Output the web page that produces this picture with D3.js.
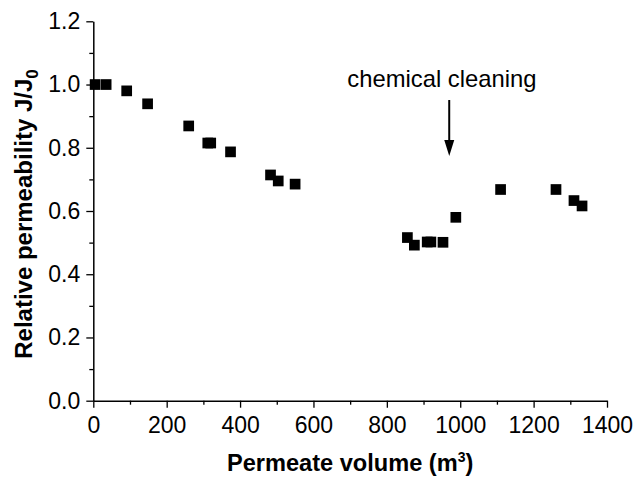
<!DOCTYPE html>
<html>
<head>
<meta charset="utf-8">
<script src="https://cdn.jsdelivr.net/npm/d3@7"></script>
<style>
  html, body { margin: 0; padding: 0; background: #fff; }
  svg { display: block; font-family: "Liberation Sans", Arial, sans-serif; }
</style>
</head>
<body>
<svg id="chart" width="634" height="479"></svg>
<script>
// Permeate volume (m³) and relative permeability J/J0
const volume = [5, 35, 91, 148, 260, 312, 320, 374, 483, 504, 550,
                856, 875, 910, 920, 953, 988, 1110, 1261, 1310, 1332];
const permeability = [1.0, 1.0, 0.98, 0.939, 0.869, 0.815, 0.815, 0.787, 0.714, 0.695, 0.685,
                      0.516, 0.492, 0.502, 0.502, 0.501, 0.580, 0.668, 0.668, 0.633, 0.616];

const xTicks = [0, 200, 400, 600, 800, 1000, 1200, 1400];
const yTicks = [0.0, 0.2, 0.4, 0.6, 0.8, 1.0, 1.2];
const xMinor = d3.range(100, 1400, 200);
const yMinor = [0.1, 0.3, 0.5, 0.7, 0.9, 1.1];

// Cleaning annotation: label position and arrow span
const cleaningLabel = { x: 950, y: 0.991, text: "chemical cleaning" };
const cleaningArrow = { x: 970, y0: 0.951, y1: 0.774 };

const svg = d3.select("#chart");
const x = d3.scaleLinear().domain([0, 1400]).range([93.3, 607]);
const y = d3.scaleLinear().domain([0, 1.2]).range([400.7, 21.3]);

const fontTick = 23;

// Minor ticks
svg.append("g")
  .attr("transform", `translate(0,${y(0)})`)
  .call(d3.axisBottom(x).tickValues(xMinor).tickSize(4).tickFormat(""))
  .call(g => g.select(".domain").remove())
  .call(g => g.selectAll("line").attr("stroke", "#000").attr("stroke-width", 1.3));
svg.append("g")
  .attr("transform", `translate(${x(0)},0)`)
  .call(d3.axisLeft(y).tickValues(yMinor).tickSize(4).tickFormat(""))
  .call(g => g.select(".domain").remove())
  .call(g => g.selectAll("line").attr("stroke", "#000").attr("stroke-width", 1.3));

// Major axes
const xAxis = svg.append("g")
  .attr("transform", `translate(0,${y(0)})`)
  .call(d3.axisBottom(x).tickValues(xTicks).tickSize(7).tickSizeOuter(0).tickPadding(9)
        .tickFormat(d3.format("d")));
const yAxis = svg.append("g")
  .attr("transform", `translate(${x(0)},0)`)
  .call(d3.axisLeft(y).tickValues(yTicks).tickSize(7).tickSizeOuter(0).tickPadding(6)
        .tickFormat(d3.format(".1f")));

[xAxis, yAxis].forEach(g => {
  g.select(".domain").attr("stroke", "#000").attr("stroke-width", 1.5);
  g.selectAll(".tick line").attr("stroke", "#000").attr("stroke-width", 1.3);
  g.selectAll(".tick text")
    .attr("fill", "#000")
    .style("font-size", fontTick + "px")
    .style("font-family", '"Liberation Sans", Arial, sans-serif');
});

// Data points (filled squares)
const sq = d3.symbol().type(d3.symbolSquare).size(10.7 * 10.7);
svg.append("g")
  .selectAll("path")
  .data(volume.map((v, i) => [v, permeability[i]]))
  .join("path")
  .attr("d", sq)
  .attr("transform", d => `translate(${x(d[0])},${y(d[1])})`)
  .attr("fill", "#000");

// Annotation
svg.append("text")
  .attr("x", x(cleaningLabel.x))
  .attr("y", y(cleaningLabel.y))
  .attr("text-anchor", "middle")
  .style("font-size", "23.8px")
  .attr("fill", "#000")
  .text(cleaningLabel.text);

const ax = x(cleaningArrow.x), ay0 = y(cleaningArrow.y0), ay1 = y(cleaningArrow.y1);
svg.append("line")
  .attr("x1", ax).attr("x2", ax)
  .attr("y1", ay0).attr("y2", ay1 - 12)
  .attr("stroke", "#000").attr("stroke-width", 2);
svg.append("path")
  .attr("d", `M${ax - 5},${ay1 - 16} L${ax + 5},${ay1 - 16} L${ax},${ay1} Z`)
  .attr("fill", "#000");

// Axis titles
const xTitle = svg.append("text")
  .attr("x", (x(0) + x(1400)) / 2)
  .attr("y", 471)
  .attr("text-anchor", "middle")
  .style("font-size", "23.6px")
  .style("font-weight", "bold")
  .attr("fill", "#000");
xTitle.append("tspan").text("Permeate volume (m");
xTitle.append("tspan").attr("dy", -9).style("font-size", "14px").text("3");
xTitle.append("tspan").attr("dy", 9).text(")");

const yTitle = svg.append("text")
  .attr("transform", `translate(32,214) rotate(-90)`)
  .attr("text-anchor", "middle")
  .style("font-size", "24px")
  .style("font-weight", "bold")
  .attr("fill", "#000");
yTitle.append("tspan").text("Relative permeability J/J");
yTitle.append("tspan").attr("dy", 6).style("font-size", "17px").text("0");
</script>
</body>
</html>
